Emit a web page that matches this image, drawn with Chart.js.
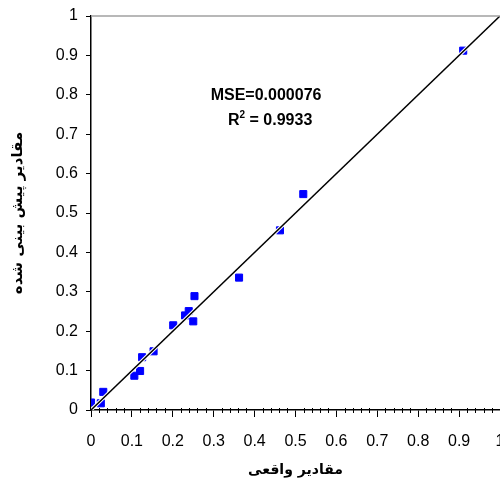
<!DOCTYPE html>
<html>
<head>
<meta charset="utf-8">
<script src="https://cdn.jsdelivr.net/npm/chart.js@4.4.0/dist/chart.umd.min.js"></script>
<style>
  html, body { margin: 0; padding: 0; background: #fff; }
  #wrap { width: 500px; height: 486px; }
</style>
</head>
<body>
<div id="wrap"><canvas id="fit"></canvas></div>
<script>
const actualVals = [0.0, 0.024, 0.03, 0.106, 0.12, 0.125, 0.153, 0.201, 0.23, 0.239, 0.25, 0.253, 0.362, 0.462, 0.519, 0.91];
const predictedVals = [0.019, 0.017, 0.046, 0.087, 0.099, 0.134, 0.149, 0.215, 0.24, 0.251, 0.225, 0.289, 0.336, 0.456, 0.548, 0.912];
const lineX = [0, 1];
const mseText = 'MSE=0.000076';
const r2Text = ' = 0.9933';
const xTitle = 'مقادير واقعی';
const yTitle = 'مقادير پيش بينی شده';

const tickFont = { family: 'Liberation Sans, Arial', size: 16 };

// 0.1 -> "0.1", 1.0 -> "1"
function fmtTick(v) {
	return Number(v.toFixed(1)).toString();
}

// no side padding so the plot runs to the right edge like the original
function noPad(scale) {
	scale.paddingLeft = 0;
	scale.paddingRight = 0;
	scale.paddingTop = 0;
	scale.paddingBottom = 0;
}

// extra bits: minor ticks, grey top frame, the two text lines
const extras = {
	id: 'extras',
	afterDraw(chart) {
		let ctx = chart.ctx;
		let xs = chart.scales.x, ys = chart.scales.y;
		let area = chart.chartArea;
		ctx.save();
		// grey top border
		ctx.strokeStyle = '#a0a0a0';
		ctx.lineWidth = 1.5;
		ctx.beginPath();
		ctx.moveTo(area.left, area.top);
		ctx.lineTo(area.right, area.top);
		ctx.stroke();
		// minor ticks every 0.02
		ctx.strokeStyle = '#000';
		ctx.lineWidth = 1;
		for (let i = 1; i < 50; i++) {
			if (i % 5 === 0) continue;
			let px = Math.round(xs.getPixelForValue(i / 50)) + 0.5;
			ctx.beginPath();
			ctx.moveTo(px, area.bottom - 2);
			ctx.lineTo(px, area.bottom + 3);
			ctx.stroke();
		}
		// MSE / R2 text
		ctx.fillStyle = '#000';
		ctx.font = 'bold 16px "Liberation Sans", Arial';
		ctx.textAlign = 'center';
		ctx.textBaseline = 'alphabetic';
		let cx = xs.getPixelForValue(0.428);
		ctx.fillText(mseText, cx, ys.getPixelForValue(0.787));
		// R^2 with superscript
		let by = ys.getPixelForValue(0.723);
		ctx.textAlign = 'left';
		let wR = ctx.measureText('R').width;
		let wRest = ctx.measureText(r2Text).width;
		ctx.font = 'bold 10px "Liberation Sans", Arial';
		let w2 = ctx.measureText('2').width;
		let startX = xs.getPixelForValue(0.438) - (wR + w2 + wRest) / 2;
		ctx.font = 'bold 16px "Liberation Sans", Arial';
		ctx.fillText('R', startX, by);
		ctx.font = 'bold 10px "Liberation Sans", Arial';
		ctx.fillText('2', startX + wR, by - 7);
		ctx.font = 'bold 16px "Liberation Sans", Arial';
		ctx.fillText(r2Text, startX + wR + w2, by);
		ctx.restore();
	}
};

document.addEventListener('DOMContentLoaded', () => {
	let ctx = document.querySelector('#fit').getContext('2d');
	let points = actualVals.map((v, i) => ({ x: v, y: predictedVals[i] }));
	let line = lineX.map(v => ({ x: v, y: v }));

	new Chart(ctx, {
		type: 'scatter',
		data: {
			datasets: [{
				data: points,
				backgroundColor: '#0000ff',
				borderColor: '#0000ff',
				borderWidth: 1,
				pointStyle: 'rect',
				pointRadius: 5,
				order: 3
			}, {
				// white halo under the diagonal
				data: line,
				showLine: true,
				borderColor: '#ffffff',
				borderWidth: 3.5,
				pointRadius: 0,
				order: 2
			}, {
				data: line,
				showLine: true,
				borderColor: '#000000',
				borderWidth: 1.5,
				pointRadius: 0,
				order: 1
			}]
		},
		options: {
			responsive: true,
			maintainAspectRatio: false,
			animation: false,
			layout: {
				autoPadding: false,
				padding: { top: 16, left: 0, right: 0, bottom: 0 }
			},
			plugins: {
				legend: { display: false },
				tooltip: { enabled: false }
			},
			scales: {
				x: {
					type: 'linear',
					min: 0,
					max: 1,
					afterFit: scale => {
						scale.height = 76;
						noPad(scale);
					},
					ticks: {
						stepSize: 0.1,
						callback: fmtTick,
						color: '#000',
						font: tickFont,
						padding: 15,
						maxRotation: 0,
						autoSkip: false
					},
					grid: {
						drawOnChartArea: false,
						tickLength: 7,
						tickColor: '#000'
					},
					border: { color: '#000', width: 1.5 },
					title: {
						display: true,
						text: xTitle,
						color: '#000',
						font: { family: 'DejaVu Sans', size: 14, weight: 'bold' },
						padding: { top: 0, bottom: 7 }
					}
				},
				y: {
					type: 'linear',
					min: 0,
					max: 1,
					afterFit: scale => {
						scale.width = 91;
						noPad(scale);
					},
					ticks: {
						stepSize: 0.1,
						callback: fmtTick,
						color: '#000',
						font: tickFont,
						padding: 8
					},
					grid: {
						drawOnChartArea: false,
						tickLength: 5,
						tickColor: '#000'
					},
					border: { color: '#000', width: 1.5 },
					title: {
						display: true,
						text: yTitle,
						color: '#000',
						font: { family: 'DejaVu Sans', size: 15, weight: 'bold' },
						padding: { top: 9, bottom: 0 }
					}
				}
			}
		},
		plugins: [extras]
	});
});
</script>
</body>
</html>
